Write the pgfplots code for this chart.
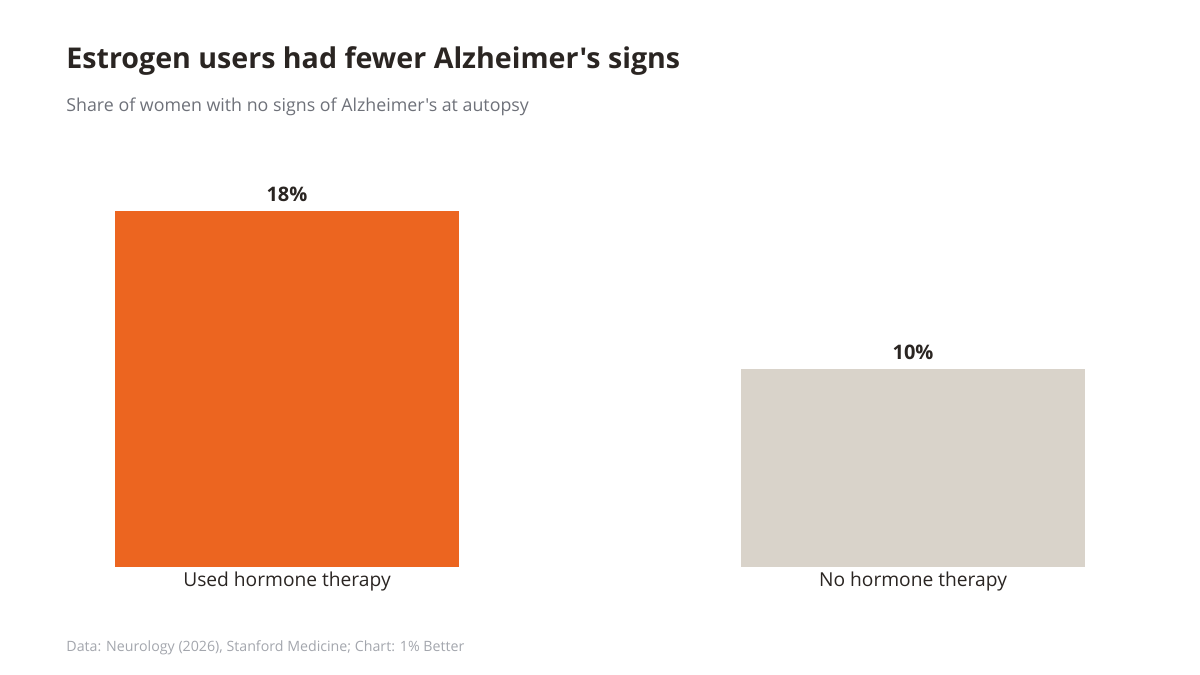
\documentclass[border=0pt]{standalone}
\usepackage{pgfplots}
\pgfplotsset{compat=1.18}
\usepackage{fontspec}
\setmainfont{Open Sans}[Ligatures=TeXOff]

\definecolor{barorange}{HTML}{EC6520}
\definecolor{bargray}{HTML}{D9D3CA}
\definecolor{titlecol}{HTML}{2A2522}
\definecolor{subcol}{HTML}{6E7179}
\definecolor{footcol}{HTML}{A3A6AD}
\definecolor{labcol}{HTML}{2A2522}

\begin{document}
\begin{tikzpicture}
\useasboundingbox (0,0) rectangle (600pt,337.5pt);
% titles (1px = 0.5pt)
\node[anchor=base west, inner sep=0, text=titlecol, font=\fontsize{14.3}{16}\selectfont\bfseries]
  at (33pt,303pt) {Estrogen users had fewer Alzheimer's signs};
\node[anchor=base west, inner sep=0, text=subcol, font=\fontsize{8.9}{11}\selectfont]
  at (33pt,281.5pt) {Share of women with no signs of Alzheimer's at autopsy};
\node[anchor=base west, inner sep=0, text=footcol, font=\fontsize{7.1}{9}\selectfont]
  at (33pt,12pt) {Data: Neurology (2026), Stanford Medicine; Chart: 1\% Better};

\begin{axis}[
  at={(33pt,54pt)}, anchor=south west,
  scale only axis,
  width=534pt, height=178pt,
  xmin=-0.353, xmax=1.353,
  ymin=0, ymax=18,
  axis line style={draw=none},
  ytick=\empty,
  xtick={0,1},
  xticklabels={Used hormone therapy, No hormone therapy},
  major tick length=0pt,
  xticklabel style={text=labcol, font=\fontsize{9.6}{11}\selectfont, yshift=1pt},
  ybar, bar width=172pt, bar shift=0pt,
  clip=false,
  nodes near coords={\pgfmathprintnumber[assume math mode=true]{\pgfplotspointmeta}\%},
  nodes near coords style={text=titlecol, font=\fontsize{10}{12}\selectfont\bfseries, yshift=1pt},
]
\addplot[fill=barorange, draw=none] coordinates {(0,18)};
\addplot[fill=bargray, draw=none] coordinates {(1,10)};
\end{axis}
\end{tikzpicture}
\end{document}
